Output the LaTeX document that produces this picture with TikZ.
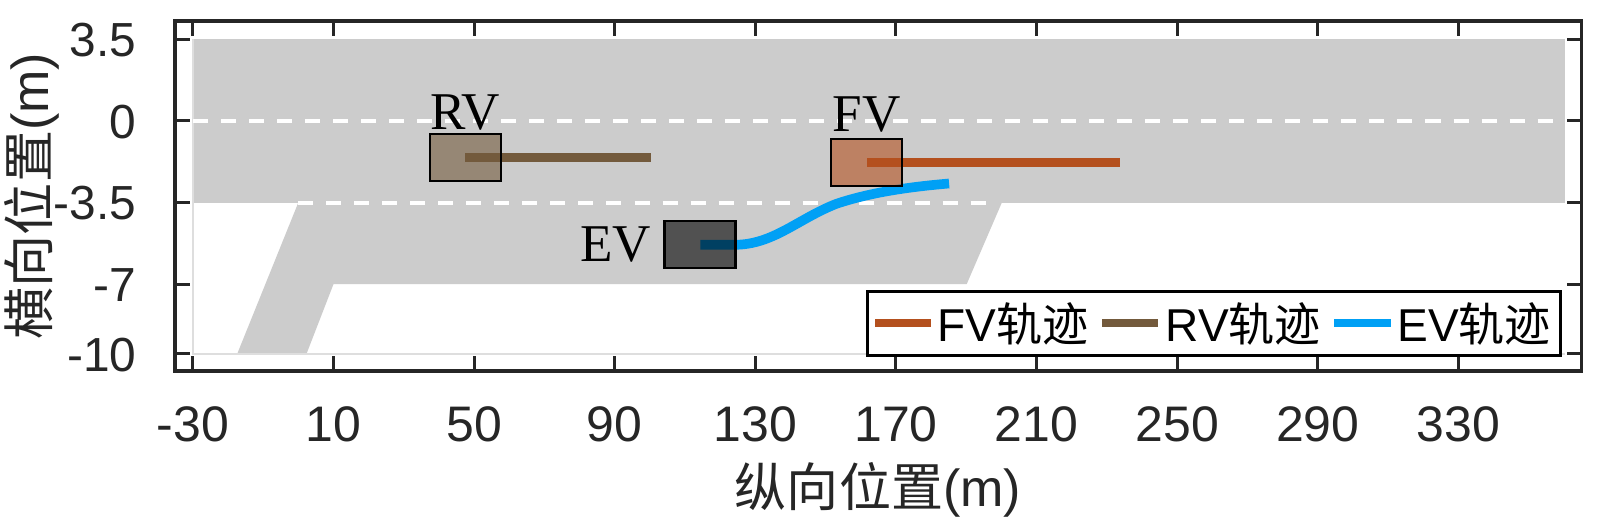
\documentclass[tikz,border=0pt]{standalone}
\usepackage{fontspec}
\setmainfont{Liberation Sans}
\newfontfamily\cjk{Noto Sans CJK SC}
\newfontfamily\tms{Liberation Serif}
\definecolor{roadgray}{gray}{0.8}
\definecolor{edgegray}{gray}{0.87}
\definecolor{fvcol}{RGB}{180,80,30}
\definecolor{rvcol}{RGB}{115,90,60}
\definecolor{evcol}{RGB}{0,160,245}
\definecolor{axcol}{gray}{0.15}
\begin{document}
\begin{tikzpicture}[x=0.01cm,y=-0.01cm,
  axisline/.style={draw=axcol,line width=1pt},
  tickline/.style={draw=axcol,line width=0.85pt},
  ticklab/.style={text=axcol,inner sep=0pt,font=\fontsize{14.2pt}{17pt}\selectfont},
  yticklab/.style={text=axcol,inner sep=0pt,font=\fontsize{13.6pt}{16pt}\selectfont},
  axlab/.style={text=axcol,inner sep=0pt,font=\fontsize{14.8pt}{18pt}\selectfont},
  lane/.style={draw=white,line width=1.15pt,dash pattern=on 0.15cm off 0.13cm},
  traj/.style={line width=2.55pt},
  vbox/.style={draw=black,line width=0.6pt,fill opacity=0.6,draw opacity=1,
    minimum width=0.71cm,minimum height=0.47cm,inner sep=0pt,outer sep=0pt},
  vlabel/.style={inner sep=0pt,font=\tms\fontsize{15.1pt}{18pt}\selectfont},
  legtext/.style={inner sep=0pt,anchor=base west,font=\fontsize{13.1pt}{16pt}\selectfont},
  legline/.style={line width=0.08cm}]
\useasboundingbox (0,0) rectangle (1600,528);
\fill[white] (0,0) rectangle (1600,528);
% ---------- data area ----------
\begin{scope}[shift={(298.3,121)},x=0.035156cm,y=0.233cm]
  \fill[roadgray] (-30,-3.5) rectangle (360,3.5);
  \fill[roadgray] (0,-3.5) -- (200,-3.5) -- (190,-7) -- (10,-7) -- (2.3,-10) -- (-17.4,-10) -- cycle;
  \draw[edgegray,line width=0.5pt] (-30,3.5) -- (-30,-10) -- (360,-10);
  \draw[lane] (-30,0) -- (360,0);
  \draw[lane] (0,-3.5) -- (198,-3.5);
  % trajectories
  \coordinate (rvs) at (47.4,-1.56);
  \coordinate (rve) at (100.2,-1.56);
  \coordinate (fvs) at (161.7,-1.78);
  \coordinate (fve) at (233.5,-1.78);
  \coordinate (evs) at (114.3,-5.31);
  \coordinate (evm) at (124,-5.31);
  \coordinate (evq) at (153,-3.55);
  \coordinate (eve) at (185,-2.68);
  \draw[traj,rvcol] (rvs) -- (rve);
  \draw[traj,fvcol] (fvs) -- (fve);
  \draw[traj,evcol,line width=2.75pt] (evs) -- (evm)
     .. controls (135,-5.31) and (142,-4.2) .. (evq)
     .. controls (162,-3.1) and (172,-2.85) .. (eve);
  % vehicles
  \node[vbox,fill=rvcol] (rv) at (47.45,-1.56) {};
  \node[vbox,fill=fvcol] (fv) at (161.6,-1.78) {};
  \node[vbox,fill=black] (ev) at (114.2,-5.31) {};
  \node[vlabel,anchor=base] (rvl) at ([yshift=0.04cm]rv.north) {RV};
  \node[vlabel,anchor=base] (fvl) at ([yshift=0.07cm]fv.north) {FV};
  \node[vlabel,anchor=east] (evl) at ([xshift=-0.125cm]ev.west) {EV};
\end{scope}
% ---------- axes ----------
\draw[axisline] (175,21) rectangle (1581.5,371);
\foreach \X [count=\i] in {-30,10,50,90,130,170,210,250,290,330}{
  \pgfmathsetmacro{\px}{298.3+3.5156*\X}
  \draw[tickline] (\px,371) -- (\px,356);
  \draw[tickline] (\px,21) -- (\px,36);
  \node[ticklab,anchor=base] (xt\i) at (\px,441.7) {\X};
}
\foreach \Y [count=\i] in {3.5,0,-3.5,-7,-10}{
  \pgfmathsetmacro{\py}{121-23.3*\Y}
  \draw[tickline] (175,\py) -- (190,\py);
  \draw[tickline] (1581.5,\py) -- (1566.5,\py);
  \node[yticklab,anchor=base east] (yt\i) at (137,\py+17.2) {\Y};
}
\node[axlab,anchor=base] (xlab) at (878,507) {{\cjk 纵向位置}(m)};
\node[axlab,rotate=90,anchor=center] (ylab) at (32,196) {{\cjk 横向位置}(m)};
% ---------- legend ----------
\node[draw=black,line width=0.85pt,fill=white,inner sep=0pt,outer sep=0pt,
  minimum width=6.923cm,minimum height=0.63cm,anchor=north west] (leg) at (867.7,292) {};
\coordinate (l1a) at (875,323);   \coordinate (l1b) at (931,323);
\coordinate (l2a) at (1102,323);  \coordinate (l2b) at (1158,323);
\coordinate (l3a) at (1334,323);  \coordinate (l3b) at (1391,323);
\draw[legline,fvcol] (l1a) -- (l1b);
\draw[legline,rvcol] (l2a) -- (l2b);
\draw[legline,evcol] (l3a) -- (l3b);
\node[legtext] (lt1) at (936.7,341.7) {FV{\cjk 轨迹}};
\node[legtext] (lt2) at (1165,341.7) {RV{\cjk 轨迹}};
\node[legtext] (lt3) at (1396.7,341.7) {EV{\cjk 轨迹}};
\end{tikzpicture}
\end{document}
